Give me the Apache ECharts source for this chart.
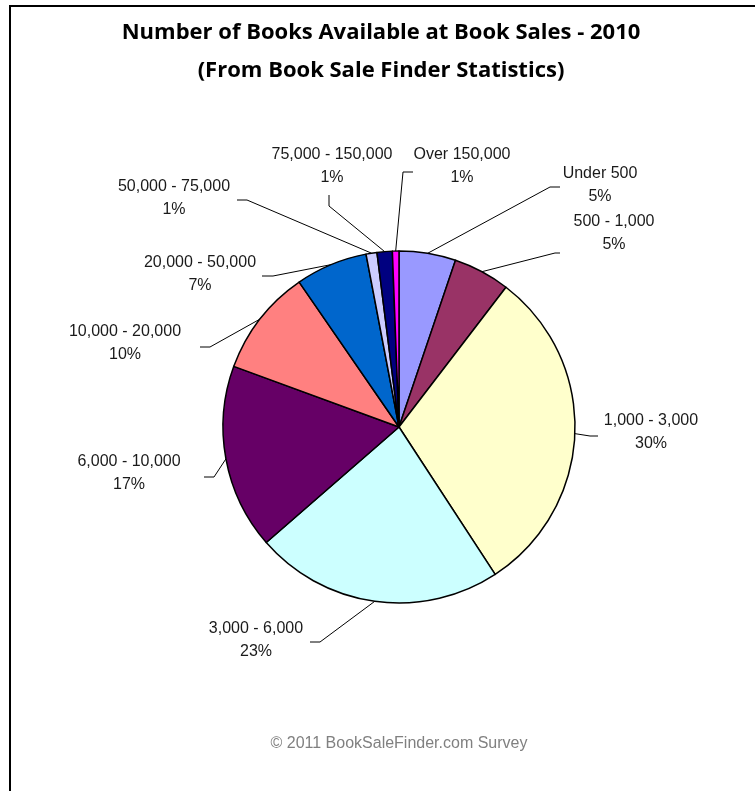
<!DOCTYPE html>
<html>
<head>
<meta charset="utf-8">
<script src="https://cdn.jsdelivr.net/npm/echarts@6/dist/echarts.min.js"></script>
<style>html,body{margin:0;padding:0;background:#fff;}#c{width:755px;height:791px;}</style>
</head>
<body>
<div id="c"></div>
<script>
// ---- data ----
const categories = ["Under 500", "500 - 1,000", "1,000 - 3,000", "3,000 - 6,000", "6,000 - 10,000",
  "10,000 - 20,000", "20,000 - 50,000", "50,000 - 75,000", "75,000 - 150,000", "Over 150,000"];
const shares = [5.2, 5.2, 30.4, 22.8, 17.0, 9.8, 6.6, 1.0, 1.4, 0.6];
const colors = ["#9999FF", "#993366", "#FFFFCC", "#CCFFFF", "#660066", "#FF8080", "#0066CC", "#CCCCFF", "#000080", "#FF00FF"];
const titleLines = ["Number of Books Available at Book Sales - 2010", "(From Book Sale Finder Statistics)"];
const footer = "\u00A9 2011 BookSaleFinder.com Survey";

// ---- label layout (styling) ----
const labelPos = [[600,185],[614,233],[651,432],[256,640],[129,473],[125,343],[200,274],[174,198],[332,166],[462,166]];
const labelElbow = [[[550,187],[560,187]],[[555,253],[560,253]],[[590,436],[598,436]],[[320,642],[310,642]],
  [[214,477],[204,477]],[[210,347],[200,347]],[[273,276],[262,276]],[[247,200],[237,200]],[[329,206],[329,195]],[[403,172],[413,172]]];

const chart = echarts.init(document.getElementById('c'), null, {renderer: 'canvas'});
const total = shares.reduce((a,b)=>a+b,0);
const titleFont = 'bold 22px "Open Sans"';
chart.setOption({
  animation: false,
  backgroundColor: '#fff',
  graphic: [
    {type:'rect', shape:{x:10, y:6, width:760, height:800}, style:{fill:'none', stroke:'#000', lineWidth:2}, z:-1},
    {type:'text', style:{x:381, y:33, text: titleLines[0], font: titleFont, fill:'#000', textAlign:'center', textVerticalAlign:'middle'}},
    {type:'text', style:{x:381, y:71, text: titleLines[1], font: titleFont, fill:'#000', textAlign:'center', textVerticalAlign:'middle'}},
    {type:'text', style:{x:399, y:744, text: footer, font:'16px "Liberation Sans"', fill:'#808080', textAlign:'center', textVerticalAlign:'middle'}}
  ],
  series: [{
    type: 'pie',
    center: [399, 427],
    radius: 176,
    startAngle: 90,
    clockwise: true,
    avoidLabelOverlap: false,
    itemStyle: {borderColor: '#000', borderWidth: 1.5},
    label: {
      show: true,
      formatter: p => p.name + '\n' + Math.round(p.value / total * 100) + '%',
      fontFamily: '"Liberation Sans", Arial, sans-serif',
      fontSize: 16,
      lineHeight: 23,
      color: '#1a1a1a',
      align: 'center'
    },
    labelLine: {show: true, length: 10, length2: 10, lineStyle: {color: '#000', width: 1}},
    labelLayout: function (params) {
      const i = params.dataIndex;
      const pts = params.labelLinePoints;
      const start = pts ? pts[0] : null;
      const res = {x: labelPos[i][0], y: labelPos[i][1], align: 'center', verticalAlign: 'middle'};
      if (start) res.labelLinePoints = [start, labelElbow[i][0], labelElbow[i][1]];
      return res;
    },
    emphasis: {disabled: true},
    data: categories.map((c, i) => ({name: c, value: shares[i], itemStyle: {color: colors[i]}}))
  }]
});
</script>
</body>
</html>
